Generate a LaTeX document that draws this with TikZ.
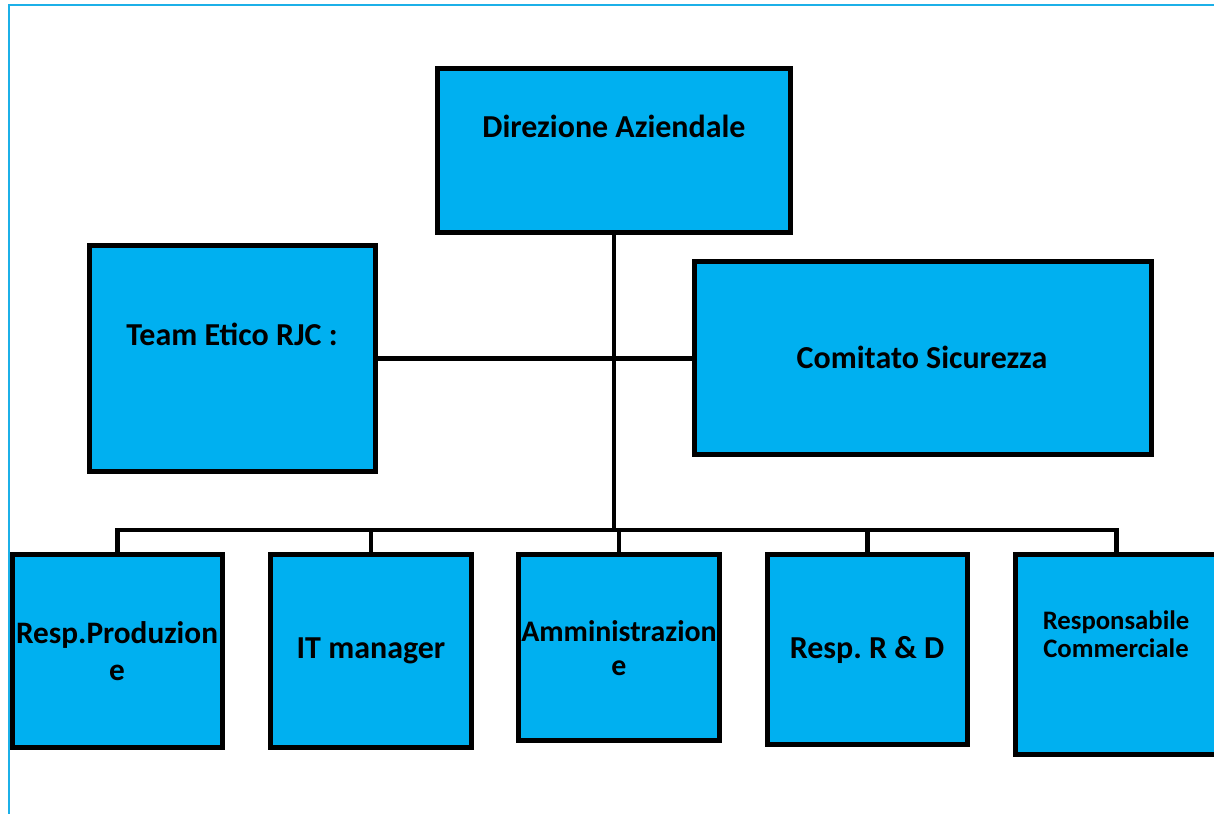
\documentclass[tikz,border=0pt]{standalone}
\usepackage{fontspec}
\setmainfont{Carlito}
\usepackage{tikz}
\definecolor{boxblue}{HTML}{00B0F0}
\definecolor{framecyan}{HTML}{1CB0E8}
\frenchspacing

\tikzset{
	box/.style={draw=black,fill=boxblue,line width=2.9pt,inner sep=0pt},
	txt/.style={font=\bfseries\fontsize{18.2}{21}\selectfont,align=center},
	link/.style={draw=black,line width=2.5pt}
}

\begin{document}
\begin{tikzpicture}[x=0.02cm,y=-0.02cm]
			\clip (0,0) rectangle (1214,814);
			\useasboundingbox (0,0) rectangle (1214,814);
			
			% page frame
			\draw[framecyan,line width=1.2pt] (9,814) -- (9,5) -- (1214,5);
			
			% top
			\node[box,minimum width=7.06cm,minimum height=3.28cm] (dir) at (614,150.5) {};
			\node[txt] (dirtxt) at (614,126) {Direzione Aziendale};
			
			% middle
			\node[box,minimum width=5.72cm,minimum height=4.52cm] (team) at (232.5,358.5) {};
			\node[txt] (teamtxt) at (232,334) {Team Etico RJC :};
			\node[box,minimum width=9.14cm,minimum height=3.86cm] (com) at (923,358) {};
			\node[txt] (comtxt) at (922,357) {Comitato Sicurezza};
			
			% bottom row
			\node[box,minimum width=4.20cm,minimum height=3.86cm] (prod) at (117.5,651) {};
			\node[txt,font=\bfseries\fontsize{17.8}{21}\selectfont] (prodtxt) at (117,651.5) {Resp.Produzion\\e};
			\node[box,minimum width=4.02cm,minimum height=3.86cm] (it) at (371,651) {};
			\node[txt] (ittxt) at (371,651) {IT manager};
			\node[box,minimum width=4.02cm,minimum height=3.72cm] (amm) at (619,647.5) {};
			\node[txt,font=\bfseries\fontsize{17}{19.5}\selectfont] (ammtxt) at (619,648) {Amministrazion\\e};
			\node[box,minimum width=4.00cm,minimum height=3.80cm] (rd) at (867.5,649.5) {};
			\node[txt] (rdtxt) at (867,650) {Resp. R \& D};
			\node[box,minimum width=4.04cm,minimum height=4.00cm] (comm) at (1116.5,654.5) {};
			\node[txt,font=\bfseries\fontsize{15.2}{16}\selectfont] (commtxt) at (1116,634) {Responsabile\\Commerciale};
			
			\coordinate (bus) at (614,530);
			
			% links
			\draw[link] (dir.south) -- (bus);
			\draw[link] (team.east) -- (team.east -| com.west);
			\draw[link] (prod.north) -- (prod.north |- bus) -- (comm.north |- bus) -- (comm.north);
			\foreach \n in {it,amm,rd} {
				\draw[link] (\n.north) -- (\n.north |- bus);
			}
		\end{tikzpicture}
\end{document}
